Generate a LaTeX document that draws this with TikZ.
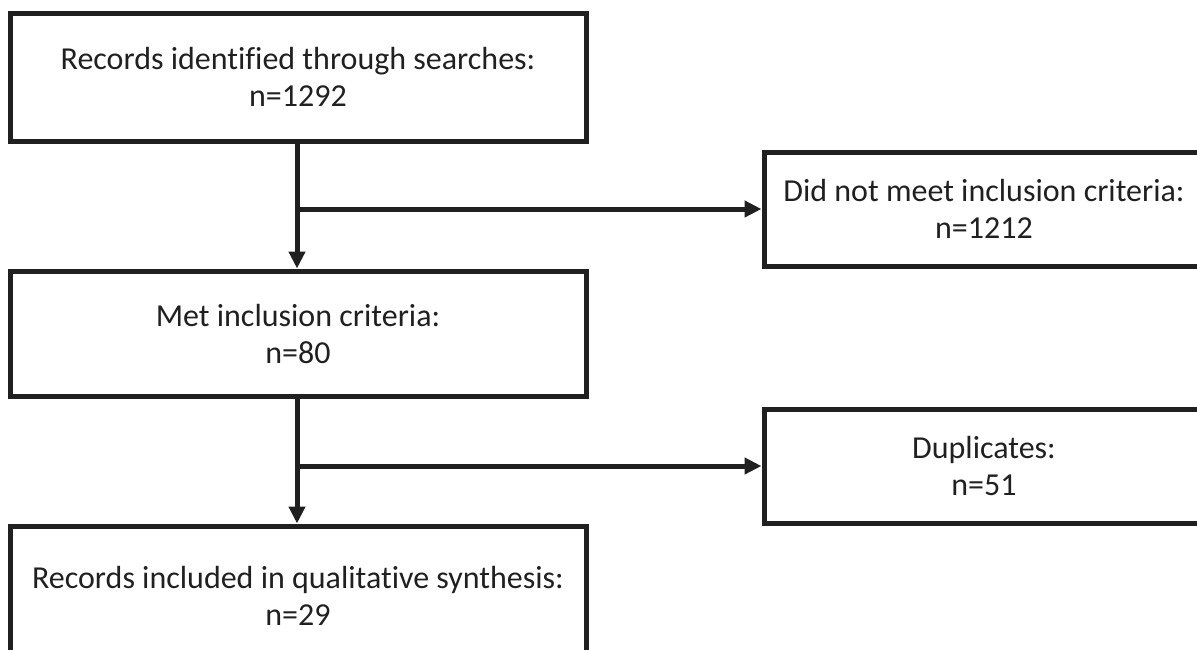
\documentclass[tikz,border=0pt]{standalone}
\usepackage{fontspec}
\setmainfont{Carlito}[Ligatures={NoCommon}]
\usetikzlibrary{arrows.meta}
\definecolor{ink}{HTML}{202020}
\begin{document}
\begin{tikzpicture}[x=1pt,y=-1pt,
  box/.style={draw=ink,line width=5pt,align=center,text=ink,
    font=\fontsize{32}{37}\selectfont,inner sep=0pt},
  conn/.style={draw=ink,line width=5pt,-{Triangle[length=17pt,width=16pt]}},
  plain/.style={draw=ink,line width=5pt}]
\useasboundingbox (0,0) rectangle (1197,649);
\node[box,minimum width=576pt,minimum height=128pt] (b1) at (298,77)
  {Records identified through searches:\\n=1292};
\node[box,minimum width=440pt,minimum height=114pt] (b2) at (984,209)
  {Did not meet inclusion criteria:\\n=1212};
\node[box,minimum width=576pt,minimum height=125pt] (b3) at (298,333.5)
  {Met inclusion criteria:\\n=80};
\node[box,minimum width=440pt,minimum height=114pt] (b4) at (984,466)
  {Duplicates:\\n=51};
\node[box,minimum width=576pt,minimum height=140pt] (b5) at (298,596)
  {Records included in qualitative synthesis:\\n=29};
\coordinate (j1) at (297,209);
\coordinate (j2) at (297,466);
\draw[conn] (b1.south -| j1) -- (b3.north -| j1);
\draw[conn] (j1) -- (b2.west);
\draw[conn] (b3.south -| j2) -- (b5.north -| j2);
\draw[conn] (j2) -- (b4.west);
\end{tikzpicture}
\end{document}
